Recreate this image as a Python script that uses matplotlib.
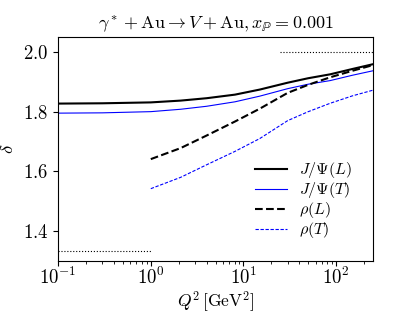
import numpy as np
import matplotlib
matplotlib.use("Agg")
import matplotlib.pyplot as plt

plt.rcParams['mathtext.fontset'] = 'cm'
plt.rcParams['font.family'] = 'serif'
plt.rcParams['font.serif'] = ['cmr10']
plt.rcParams['axes.formatter.use_mathtext'] = True

# values
q2_jpsi = [0.1, 0.3, 1.0, 2.1, 4.0, 8.1, 15.0, 30.0, 50.0, 86.0, 150.0, 250.0]
jpsi_L = [1.827, 1.828, 1.831, 1.837, 1.845, 1.857, 1.874, 1.897, 1.912, 1.925, 1.943, 1.959]
jpsi_T = [1.795, 1.796, 1.800, 1.808, 1.818, 1.833, 1.852, 1.877, 1.892, 1.904, 1.922, 1.937]

q2_rho = [1.0, 2.1, 4.0, 8.1, 15.0, 30.0, 50.0, 86.0, 150.0, 250.0]
rho_L = [1.641, 1.678, 1.720, 1.767, 1.810, 1.863, 1.890, 1.915, 1.937, 1.956]
rho_T = [1.542, 1.580, 1.622, 1.667, 1.710, 1.770, 1.800, 1.828, 1.853, 1.872]

fig, ax = plt.subplots(figsize=(4.15, 3.11), dpi=100)
fig.subplots_adjust(left=0.14, right=0.899, bottom=0.161, top=0.881)

ax.plot(q2_jpsi, jpsi_L, color='black', lw=1.5, label=r'$J/\Psi(L)$')
ax.plot(q2_jpsi, jpsi_T, color='blue', lw=0.8, label=r'$J/\Psi(T)$')
ax.plot(q2_rho, rho_L, color='black', lw=1.5, ls='--', label=r'$\rho(L)$')
ax.plot(q2_rho, rho_T, color='blue', lw=0.8, ls='--', dashes=(3, 1.5), label=r'$\rho(T)$')

# limits
ax.plot([0.1, 1.0], [4/3, 4/3], color='black', lw=0.8, ls=':')
ax.plot([25.0, 250.0], [2.0, 2.0], color='black', lw=0.8, ls=':')

ax.set_xscale('log')
ax.set_xlim(0.1, 250)
ax.set_ylim(1.3, 2.05)
ax.set_yticks([1.4, 1.6, 1.8, 2.0])
ax.tick_params(labelsize=13.5)
ax.tick_params(axis='x', pad=1)
ax.set_xlabel(r'$Q^2\,[\mathrm{GeV}^2]$', fontsize=12.5, va='center')
ax.xaxis.set_label_coords(0.5, -0.18)
ax.set_ylabel(r'$\delta$', fontsize=13.5)
ax.set_title(r'$\gamma^* + \mathrm{Au} \rightarrow V + \mathrm{Au}, x_\mathbb{P} = 0.001$', fontsize=13)
ax.legend(loc='lower right', frameon=False, fontsize=11.5, handlelength=2.0,
          labelspacing=0.0, borderaxespad=0.9)

fig.savefig('out.png')
